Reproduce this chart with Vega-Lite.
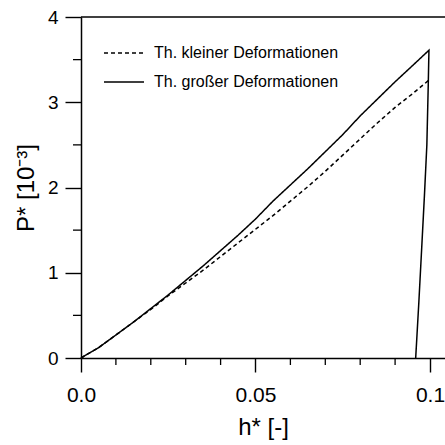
{
  "$schema": "https://vega.github.io/schema/vega-lite/v6.json",
  "width": 364,
  "height": 341,
  "autosize": {"type": "none"},
  "padding": {"left": 81, "top": 17, "right": 0, "bottom": 87},
  "background": "white",
  "config": {
    "view": {"stroke": null},
    "font": "Liberation Sans",
    "axis": {
      "domainColor": "black",
      "domainWidth": 1.5,
      "ticks": true,
      "tickColor": "black",
      "tickWidth": 1.4,
      "labelColor": "black",
      "titleColor": "black",
      "labelFont": "Liberation Sans",
      "titleFont": "Liberation Sans",
      "labelFlush": false,
      "grid": false
    }
  },
  "datasets": {
    "curves": [
      {"h": 0.0, "P": 0.0, "theorie": "Th. kleiner Deformationen", "ord": 0},
      {"h": 0.005, "P": 0.12, "theorie": "Th. kleiner Deformationen", "ord": 1},
      {"h": 0.01, "P": 0.27, "theorie": "Th. kleiner Deformationen", "ord": 2},
      {"h": 0.015, "P": 0.42, "theorie": "Th. kleiner Deformationen", "ord": 3},
      {"h": 0.02, "P": 0.57, "theorie": "Th. kleiner Deformationen", "ord": 4},
      {"h": 0.025, "P": 0.73, "theorie": "Th. kleiner Deformationen", "ord": 5},
      {"h": 0.03, "P": 0.88, "theorie": "Th. kleiner Deformationen", "ord": 6},
      {"h": 0.035, "P": 1.03, "theorie": "Th. kleiner Deformationen", "ord": 7},
      {"h": 0.04, "P": 1.19, "theorie": "Th. kleiner Deformationen", "ord": 8},
      {"h": 0.045, "P": 1.35, "theorie": "Th. kleiner Deformationen", "ord": 9},
      {"h": 0.05, "P": 1.51, "theorie": "Th. kleiner Deformationen", "ord": 10},
      {"h": 0.055, "P": 1.67, "theorie": "Th. kleiner Deformationen", "ord": 11},
      {"h": 0.06, "P": 1.84, "theorie": "Th. kleiner Deformationen", "ord": 12},
      {"h": 0.065, "P": 2.01, "theorie": "Th. kleiner Deformationen", "ord": 13},
      {"h": 0.07, "P": 2.19, "theorie": "Th. kleiner Deformationen", "ord": 14},
      {"h": 0.075, "P": 2.38, "theorie": "Th. kleiner Deformationen", "ord": 15},
      {"h": 0.08, "P": 2.57, "theorie": "Th. kleiner Deformationen", "ord": 16},
      {"h": 0.085, "P": 2.76, "theorie": "Th. kleiner Deformationen", "ord": 17},
      {"h": 0.09, "P": 2.94, "theorie": "Th. kleiner Deformationen", "ord": 18},
      {"h": 0.095, "P": 3.1, "theorie": "Th. kleiner Deformationen", "ord": 19},
      {"h": 0.0997, "P": 3.26, "theorie": "Th. kleiner Deformationen", "ord": 20},
      {"h": 0.0, "P": 0.0, "theorie": "Th. großer Deformationen", "ord": 0},
      {"h": 0.005, "P": 0.12, "theorie": "Th. großer Deformationen", "ord": 1},
      {"h": 0.01, "P": 0.27, "theorie": "Th. großer Deformationen", "ord": 2},
      {"h": 0.015, "P": 0.42, "theorie": "Th. großer Deformationen", "ord": 3},
      {"h": 0.02, "P": 0.58, "theorie": "Th. großer Deformationen", "ord": 4},
      {"h": 0.025, "P": 0.74, "theorie": "Th. großer Deformationen", "ord": 5},
      {"h": 0.03, "P": 0.91, "theorie": "Th. großer Deformationen", "ord": 6},
      {"h": 0.035, "P": 1.08, "theorie": "Th. großer Deformationen", "ord": 7},
      {"h": 0.04, "P": 1.26, "theorie": "Th. großer Deformationen", "ord": 8},
      {"h": 0.045, "P": 1.44, "theorie": "Th. großer Deformationen", "ord": 9},
      {"h": 0.05, "P": 1.63, "theorie": "Th. großer Deformationen", "ord": 10},
      {"h": 0.055, "P": 1.84, "theorie": "Th. großer Deformationen", "ord": 11},
      {"h": 0.06, "P": 2.03, "theorie": "Th. großer Deformationen", "ord": 12},
      {"h": 0.065, "P": 2.22, "theorie": "Th. großer Deformationen", "ord": 13},
      {"h": 0.07, "P": 2.42, "theorie": "Th. großer Deformationen", "ord": 14},
      {"h": 0.075, "P": 2.62, "theorie": "Th. großer Deformationen", "ord": 15},
      {"h": 0.08, "P": 2.84, "theorie": "Th. großer Deformationen", "ord": 16},
      {"h": 0.085, "P": 3.04, "theorie": "Th. großer Deformationen", "ord": 17},
      {"h": 0.09, "P": 3.24, "theorie": "Th. großer Deformationen", "ord": 18},
      {"h": 0.095, "P": 3.43, "theorie": "Th. großer Deformationen", "ord": 19},
      {"h": 0.0997, "P": 3.61, "theorie": "Th. großer Deformationen", "ord": 20},
      {"h": 0.0995, "P": 3.2, "theorie": "Th. großer Deformationen", "ord": 21},
      {"h": 0.0991, "P": 2.5, "theorie": "Th. großer Deformationen", "ord": 22},
      {"h": 0.0984, "P": 1.9, "theorie": "Th. großer Deformationen", "ord": 23},
      {"h": 0.0976, "P": 1.27, "theorie": "Th. großer Deformationen", "ord": 24},
      {"h": 0.0968, "P": 0.65, "theorie": "Th. großer Deformationen", "ord": 25},
      {"h": 0.0959, "P": 0.0, "theorie": "Th. großer Deformationen", "ord": 26}
    ],
    "frame": [{"P": 4}],
    "minorH": [{"h": 0.01}, {"h": 0.02}, {"h": 0.03}, {"h": 0.04}, {"h": 0.06}, {"h": 0.07}, {"h": 0.08}, {"h": 0.09}],
    "minorP": [{"P": 0.5}, {"P": 1.5}, {"P": 2.5}, {"P": 3.5}]
  },
  "layer": [
    {
      "data": {"name": "frame"},
      "mark": {"type": "rule", "color": "black", "strokeWidth": 1.5},
      "encoding": {
        "y": {"field": "P", "type": "quantitative", "scale": {"domain": [0, 4], "nice": false}}
      }
    },
    {
      "data": {"name": "minorH"},
      "mark": {"type": "rule", "color": "black", "strokeWidth": 1.3, "y2Offset": 7},
      "encoding": {
        "x": {"field": "h", "type": "quantitative"},
        "y": {"datum": 0, "type": "quantitative"},
        "y2": {"datum": 0}
      }
    },
    {
      "data": {"name": "minorP"},
      "mark": {"type": "rule", "color": "black", "strokeWidth": 1.3, "x2Offset": -8},
      "encoding": {
        "y": {"field": "P", "type": "quantitative"},
        "x": {"datum": 0, "type": "quantitative"},
        "x2": {"datum": 0}
      }
    },
    {
      "data": {"name": "curves"},
      "mark": {"type": "line", "color": "black", "strokeWidth": 1.5},
      "encoding": {
        "x": {
          "field": "h",
          "type": "quantitative",
          "title": "h* [-]",
          "scale": {"domain": [0, 0.1043], "nice": false, "zero": false},
          "axis": {
            "values": [0, 0.05, 0.1],
            "tickSize": 14,
            "labelExpr": "datum.value == 0 ? '0.0' : datum.value == 0.05 ? '0.05' : '0.1'",
            "labelFontSize": 21,
            "labelPadding": 12,
            "labelBound": false,
            "labelOverlap": false,
            "titleFontSize": 24,
            "titleFontWeight": "normal",
            "titlePadding": 10
          }
        },
        "y": {
          "field": "P",
          "type": "quantitative",
          "title": "P* [10⁻³]",
          "scale": {"domain": [0, 4], "nice": false},
          "axis": {
            "values": [0, 1, 2, 3, 4],
            "tickSize": 16,
            "format": "d",
            "labelFontSize": 19,
            "labelPadding": 7,
            "labelBound": false,
            "labelOverlap": false,
            "titleFontSize": 24,
            "titleFontWeight": "normal",
            "titlePadding": 9
          }
        },
        "order": {"field": "ord", "type": "quantitative"},
        "strokeDash": {
          "field": "theorie",
          "type": "nominal",
          "scale": {
            "domain": ["Th. kleiner Deformationen", "Th. großer Deformationen"],
            "range": [[4, 3], [1, 0]]
          },
          "legend": {
            "orient": "none",
            "legendX": 22,
            "legendY": 15,
            "title": null,
            "symbolType": "stroke",
            "symbolSize": 1600,
            "symbolStrokeColor": "black",
            "symbolStrokeWidth": 1.3,
            "labelFontSize": 16,
            "labelFont": "Liberation Sans",
            "labelColor": "black",
            "labelLimit": 0,
            "labelOffset": 9,
            "rowPadding": -18
          }
        }
      }
    }
  ]
}
